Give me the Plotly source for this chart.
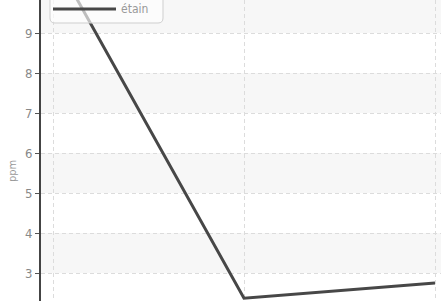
import plotly.graph_objects as go

categories = ["1", "2", "3"]
etain = [10.92, 2.37, 2.75]
series_name = "étain"
y_title = "ppm"
band_ranges = [(9, 10), (7, 8), (5, 6), (3, 4)]

W, H = 441, 301
L = 41
PW, PH = W - L, H

def px(xp):
    return (xp - L) / PW

def py(yp):
    return 1 - yp / PH

font_family = "Liberation Sans Narrow, DejaVu Sans Condensed, Roboto, sans-serif"

fig = go.Figure()
fig.add_trace(go.Scatter(
    x=categories, y=etain, mode="lines", name=series_name,
    line=dict(color="#474747", width=3), showlegend=False, hoverinfo="skip",
))

shapes = []
for lo, hi in band_ranges:
    shapes.append(dict(type="rect", xref="paper", yref="y", x0=0, x1=1, y0=lo, y1=hi,
                       fillcolor="#f7f7f7", line=dict(width=0), layer="below"))

# legend box (rounded)
x0, x1 = px(50), px(163)
yb, yt = py(23), py(-10)
rx, ry = 5 / PW, 5 / PH
path = (f"M {x0},{yt} L {x0},{yb+ry} Q {x0},{yb} {x0+rx},{yb} "
        f"L {x1-rx},{yb} Q {x1},{yb} {x1},{yb+ry} L {x1},{yt} Z")
shapes.append(dict(type="path", xref="paper", yref="paper", path=path,
                   fillcolor="rgba(255,255,255,0.65)", line=dict(color="#cfcfcf", width=1),
                   layer="above"))
shapes.append(dict(type="line", xref="paper", yref="paper", x0=px(53), x1=px(116),
                   y0=py(9), y1=py(9), line=dict(color="#474747", width=3), layer="above"))

annotations = [
    dict(text=series_name, xref="paper", yref="paper", x=px(119), y=py(9),
         xanchor="left", yanchor="middle", showarrow=False,
         font=dict(family=font_family, size=12, color="#999999")),
    dict(text=y_title, xref="paper", yref="paper", x=px(13), y=py(171),
         xanchor="center", yanchor="middle", showarrow=False, textangle=-90,
         font=dict(family=font_family, size=11, color="#999999")),
]

fig.update_layout(
    width=W, height=H,
    margin=dict(l=L, r=0, t=0, b=0, autoexpand=False),
    paper_bgcolor="white", plot_bgcolor="white",
    shapes=shapes, annotations=annotations,
    font=dict(family=font_family, color="#888888"),
    hovermode=False,
    xaxis=dict(type="category", range=[-12 / 191, 2 + 6 / 191], automargin=False,
               showgrid=True, gridcolor="#dcdcdc", griddash="4px,3px", gridwidth=1,
               showticklabels=False, ticks="", zeroline=False, showline=False),
    yaxis=dict(range=[9 - 268 / 40, 9 + 33 / 40], dtick=1, tick0=0, automargin=False,
               showgrid=True, gridcolor="#dcdcdc", griddash="4px,3px", gridwidth=1,
               zeroline=False, showline=True, linecolor="#444444", linewidth=2,
               ticks="outside", ticklen=4, tickcolor="#555555", tickwidth=1,
               tickfont=dict(family=font_family, size=13, color="#888888")),
)

fig.write_html("out.html", config={"displayModeBar": False, "staticPlot": True},
               post_script="document.body.style.margin='0';document.body.style.overflow='hidden';")
